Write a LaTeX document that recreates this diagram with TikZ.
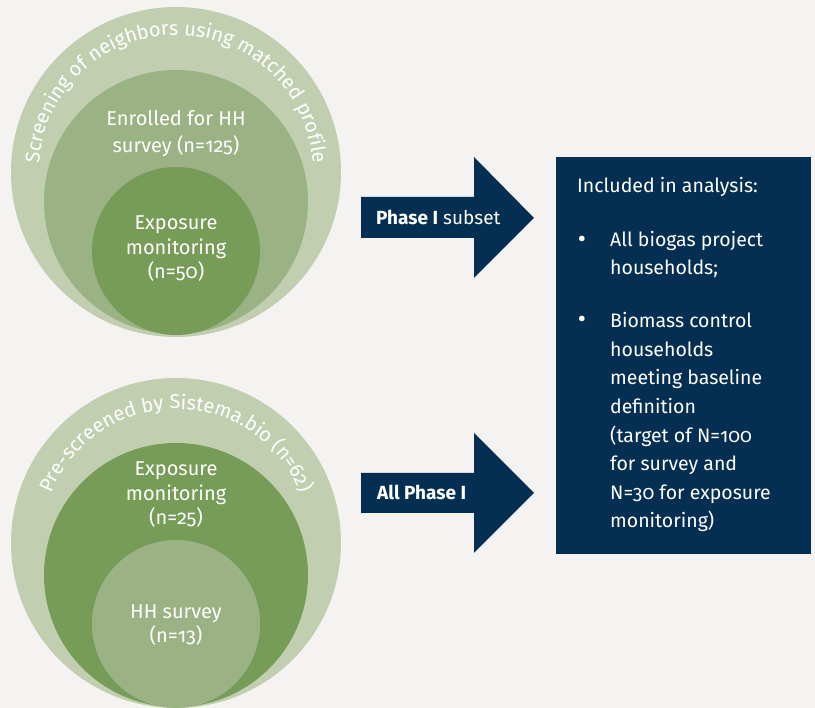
\documentclass[tikz,border=0pt]{standalone}
\usepackage{fontspec}
\setmainfont{Fira Sans}[Numbers=OldStyle]
\usetikzlibrary{calc}
\usetikzlibrary{positioning}
\usetikzlibrary{decorations.text}
\definecolor{paper}{HTML}{F4F3F1}
\definecolor{sageLight}{HTML}{C1CFB0}
\definecolor{sageMid}{HTML}{9BB384}
\definecolor{sageDark}{HTML}{779C58}
\definecolor{navy}{HTML}{052F52}
\tikzset{
  ring/.style={circle, inner sep=0pt, draw=none},
  ringtext/.style={text=white, align=center, inner sep=0pt, font=\fontsize{20}{24.5}\selectfont},
  blockarrow/.style={fill=navy, draw=none},
  armlabel/.style={text=white, inner sep=0pt, font=\fontsize{19}{20}\selectfont},
  boxtext/.style={text=white, align=left, inner sep=0pt, font=\fontsize{19.5}{28.6}\selectfont},
  bulletdot/.style={text=white, inner sep=0pt, font=\fontsize{25}{25}\selectfont}
}

\begin{document}
\begin{tikzpicture}[x=1pt, y=1pt]
    \fill[paper] (0,0) rectangle (815,708);
    \useasboundingbox (0,0) rectangle (815,708);

    % upper set of circles
    \node [ring, fill=sageLight, minimum size=330pt] (topOuter) at (176,536) {};
    \node [ring, fill=sageMid, minimum size=264pt] (topMid) at (176,506) {};
    \node [ring, fill=sageDark, minimum size=168pt] (topInner) at (176,457) {};
    \path [decorate, decoration={text along path, text align=center, text color=white,
        text={|\fontsize{20}{20}\selectfont|Screening of neighbors using matched profile}}]
        ($(topOuter.center)+(185:137pt)$) arc [start angle=185, end angle=-5, radius=137pt];
    \node [ringtext, font=\fontsize{20}{27}\selectfont, anchor=base] (topMidLbl) at (176,555) {Enrolled for HH\\survey (n=125)};
    \node [ringtext, anchor=base] (topInnerLbl) at (176,429) {Exposure\\monitoring\\(n=50)};

    % lower set of circles
    \node [ring, fill=sageLight, minimum size=330pt] (lowOuter) at (176,165) {};
    \node [ring, fill=sageDark, minimum size=264pt] (lowMid) at (176,133) {};
    \node [ring, fill=sageMid, minimum size=168pt] (lowInner) at (176,84) {};
    \path [decorate, decoration={text along path, text align=center, text color=white,
        text={|\fontsize{20}{20}\selectfont|Pre-screened by Sistema.bio (n=62)}}]
        ($(lowOuter.center)+(165:134pt)$) arc [start angle=165, end angle=15, radius=134pt];
    \node [ringtext, anchor=base] (lowMidLbl) at (176,183) {Exposure\\monitoring\\(n=25)};
    \node [ringtext, anchor=base] (lowInnerLbl) at (176,65) {HH survey\\(n=13)};

    % arrows
    \fill [blockarrow] (361,511) -- (474,511) -- (474,551) -- (534,490) -- (474,430) -- (474,470) -- (361,470) -- cycle;
    \node [armlabel, anchor=base west] (subsetLbl) at (376,483) {\textbf{Phase I} subset};
    \fill [blockarrow] (361,235) -- (474,235) -- (474,275) -- (534,215) -- (474,155) -- (474,195) -- (361,195) -- cycle;
    \node [armlabel, anchor=base west] (allLbl) at (377,208) {\textbf{All Phase I}};

    % analysis box
    \node [fill=navy, inner sep=0pt, minimum width=255pt, minimum height=397pt, anchor=north west] (analysis) at (556,551) {};
    \node [boxtext, anchor=base west] (heading) at (577,515) {Included in analysis:};
    \node [bulletdot, anchor=base] (dotA) at (582,460) {\textbullet};
    \node [boxtext, anchor=base west] (itemA) at (610,433) {All biogas project\\households;};
    \node [bulletdot, anchor=base] (dotB) at (582,380) {\textbullet};
    \node [boxtext, anchor=base west] (itemB) at (610,180) {Biomass control\\households\\meeting baseline\\definition\\(target of N=100\\for survey and\\N=30 for exposure\\monitoring)};
\end{tikzpicture}
\end{document}
